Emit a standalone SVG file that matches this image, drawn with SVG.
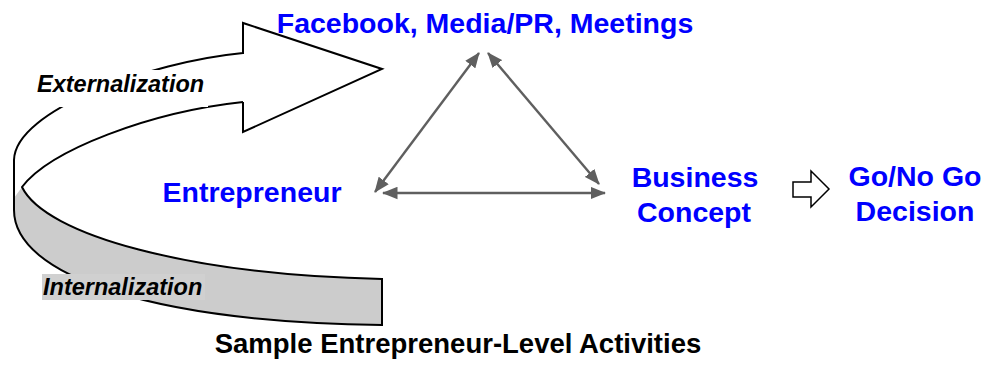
<svg xmlns="http://www.w3.org/2000/svg" width="989" height="369" viewBox="0 0 989 369">
<defs>
<style>
.blue{font-family:"Liberation Sans",Arial,sans-serif;font-weight:bold;font-size:28.5px;fill:#0000ff;text-anchor:middle}
.lbl{font-family:"Liberation Sans",Arial,sans-serif;font-weight:bold;font-style:italic;font-size:23.5px;fill:#000}
.cap{font-family:"Liberation Sans",Arial,sans-serif;font-weight:bold;font-size:27.5px;fill:#000;text-anchor:middle}
.ln{fill:none;stroke:#000;stroke-width:2}
.conn{fill:none;stroke:#5f5f5f;stroke-width:2.4;marker-start:url(#ah);marker-end:url(#ah)}
</style>
<marker id="ah" markerUnits="userSpaceOnUse" markerWidth="16" markerHeight="13" refX="14.5" refY="6.25" orient="auto-start-reverse" viewBox="0 0 16 12.5">
<path d="M0,0 L15.5,6.25 L0,12.5 Z" fill="#5f5f5f"/>
</marker>
</defs>
<rect width="989" height="369" fill="#fff"/>
<g id="cycle">
<path d="M22,187 C45,235 190,275 382,279 L382,325 C150,322 14,275 14,210 L14,198 Z" fill="#cccccc"/>
<path d="M243,102 L243,132 L382,69 L243,23 L243,53 C150,62 15,110 14,160 L14,196 L22,187 C50,150 150,112 243,102 Z" fill="#fff"/>
<path class="ln" d="M243,102 L243,132 L382,69 L243,23 L243,53 C150,62 15,110 14,160 L14,210 C14,275 150,322 382,325 L382,279 C190,275 45,235 22,187 C50,150 150,112 243,102"/>
<rect x="36" y="70" width="172" height="37" fill="#fff"/>
<text class="lbl" x="37" y="92">Externalization</text>
<rect x="42" y="274" width="163" height="26" fill="#d0d0d0"/>
<text class="lbl" x="43" y="295">Internalization</text>
</g>
<g id="connectors">
<line class="conn" x1="479" y1="53" x2="375" y2="192"/>
<line class="conn" x1="488" y1="53" x2="599" y2="184"/>
<line class="conn" x1="383" y1="193" x2="605" y2="193"/>
<path d="M793,182 L811,182 L811,171 L829,189 L811,207 L811,197 L793,197 Z" fill="#fff" stroke="#000" stroke-width="1.5"/>
</g>
<g id="facebook"><text class="blue" x="485" y="33">Facebook, Media/PR, Meetings</text></g>
<g id="entrepreneur"><text class="blue" x="252" y="202">Entrepreneur</text></g>
<g id="business"><text class="blue" x="695" y="187">Business</text><text class="blue" x="694" y="222">Concept</text></g>
<g id="decision"><text class="blue" x="915" y="186">Go/No Go</text><text class="blue" x="915" y="221">Decision</text></g>
<g id="caption"><text class="cap" x="458" y="353">Sample Entrepreneur-Level Activities</text></g>
</svg>
